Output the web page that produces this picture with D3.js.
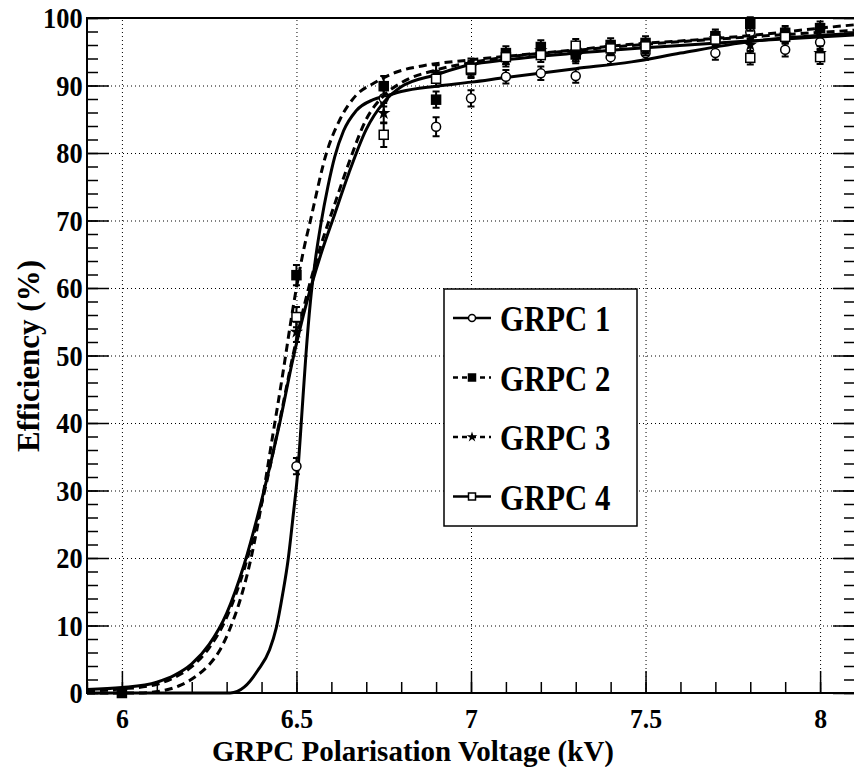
<!DOCTYPE html>
<html>
<head>
<meta charset="utf-8">
<script src="https://cdn.jsdelivr.net/npm/d3@7/dist/d3.min.js"></script>
<style>
  body { margin: 0; background: #fff; }
  svg { display: block; }
  text { font-family: "Liberation Serif", "DejaVu Serif", serif; font-weight: bold; fill: #000; }
</style>
</head>
<body>
<svg width="854" height="767"></svg>
<script>
// measured efficiencies (kV -> %)
const volts1 = [6.5, 6.75, 6.9, 7.0, 7.1, 7.2, 7.3, 7.4, 7.5, 7.7, 7.8, 7.9, 8.0];
const eff1   = [33.6, 88.1, 83.9, 88.1, 91.3, 91.8, 91.4, 94.2, 94.8, 94.8, 97.9, 95.3, 96.4];
const err1   = [1.2, 1.2, 1.4, 1.2, 1.0, 1.0, 1.0, 1.0, 1.0, 1.0, 1.0, 1.0, 1.0];

const volts2 = [6.0, 6.5, 6.75, 6.9, 7.0, 7.1, 7.2, 7.3, 7.4, 7.5, 7.7, 7.8, 7.9, 8.0];
const eff2   = [0.0, 61.9, 89.9, 87.9, 92.3, 94.8, 95.7, 94.6, 96.0, 96.3, 97.3, 99.1, 97.8, 98.5];
const err2   = [0.5, 1.5, 1.5, 1.2, 1.2, 1.0, 1.0, 1.0, 1.0, 1.0, 1.0, 1.0, 1.0, 1.0];

const volts3 = [6.5, 6.75, 6.9, 7.0, 7.1, 7.2, 7.3, 7.4, 7.5, 7.7, 7.8, 7.9, 8.0];
const eff3   = [53.5, 85.9, 91.8, 92.8, 93.8, 95.2, 94.3, 95.6, 95.5, 97.0, 96.0, 97.5, 94.8];
const err3   = [1.5, 1.5, 1.2, 1.2, 1.0, 1.0, 1.0, 1.0, 1.0, 1.0, 1.0, 1.0, 1.0];

const volts4 = [6.5, 6.75, 6.9, 7.0, 7.1, 7.2, 7.3, 7.4, 7.5, 7.7, 7.8, 7.9, 8.0];
const eff4   = [55.7, 82.7, 91.0, 92.5, 94.2, 94.5, 95.9, 95.5, 95.8, 96.8, 94.1, 97.2, 94.2];
const err4   = [1.5, 1.8, 1.2, 1.2, 1.0, 1.0, 1.0, 1.0, 1.0, 1.0, 1.0, 1.0, 1.0];

// fitted curves
const fitV1 = [5.9, 6.31, 6.351, 6.39, 6.423, 6.442, 6.461, 6.476, 6.49, 6.505, 6.515, 6.527, 6.54, 6.555, 6.57, 6.59, 6.61, 6.635, 6.67, 6.72, 6.76, 6.8, 6.9, 7.0, 7.1, 7.3, 7.46, 7.6, 7.8, 8.1];
const fitE1 = [0, 0, 0.9, 3.4, 6.4, 9.6, 14.8, 19.7, 26, 33.5, 41, 50, 58, 64.5, 69.5, 75, 79.5, 83.3, 86.2, 87.9, 88.5, 89.1, 89.9, 90.5, 91.2, 92.5, 93.5, 94.8, 96.5, 97.7];

const fitV2 = [5.9, 6.05, 6.113, 6.17, 6.21, 6.25, 6.28, 6.31, 6.34, 6.37, 6.40, 6.43, 6.46, 6.49, 6.52, 6.54, 6.586, 6.625, 6.67, 6.72, 6.787, 6.86, 7.0, 7.2, 7.3, 7.46, 7.6, 7.8, 8.0, 8.1];
const fitE2 = [0, 0, 0.3, 1.2, 2.4, 4.2, 6.3, 9.6, 14, 20, 28, 37.5, 47, 57, 65.5, 70, 80, 85, 88.5, 90.3, 92, 92.9, 93.8, 94.8, 95.3, 96.1, 96.6, 97.4, 98.5, 99];

const fitV3 = [5.9, 6.0, 6.1, 6.15, 6.2, 6.25, 6.3, 6.35, 6.4, 6.45, 6.49, 6.53, 6.57, 6.61, 6.65, 6.7, 6.75, 6.8, 6.9, 7.0, 7.1, 7.3, 7.5, 7.8, 8.1];
const fitE3 = [0.3, 0.6, 1.3, 2.3, 3.9, 6.7, 11.2, 18.3, 28, 39.8, 50, 59, 66.3, 72.5, 78.5, 85, 88.5, 90.4, 92.3, 93.4, 94.2, 95.2, 96.1, 97.2, 98.2];

const fitV4 = [5.9, 6.0, 6.1, 6.15, 6.2, 6.25, 6.3, 6.35, 6.4, 6.45, 6.49, 6.53, 6.57, 6.61, 6.65, 6.7, 6.75, 6.8, 6.9, 7.0, 7.1, 7.3, 7.5, 7.8, 8.1];
const fitE4 = [0.5, 0.8, 1.6, 2.6, 4.3, 7.2, 11.8, 19, 28.5, 39.5, 49.5, 58, 65, 71, 77, 83.5, 87.5, 89.8, 91.6, 93.1, 93.8, 94.8, 95.6, 96.6, 97.5];

const legendLabels = ['GRPC 1', 'GRPC 2', 'GRPC 3', 'GRPC 4'];
const xMajorTicks = [6, 6.5, 7, 7.5, 8];
const yMajorTicks = [0, 10, 20, 30, 40, 50, 60, 70, 80, 90, 100];

const series = [
    { v: volts1, e: eff1, err: err1, fv: fitV1, fe: fitE1, dash: null,  marker: 'circle',  filled: false },
    { v: volts2, e: eff2, err: err2, fv: fitV2, fe: fitE2, dash: '8,5', marker: 'square',  filled: true  },
    { v: volts3, e: eff3, err: err3, fv: fitV3, fe: fitE3, dash: '8,5', marker: 'star',    filled: true  },
    { v: volts4, e: eff4, err: err4, fv: fitV4, fe: fitE4, dash: null,  marker: 'square',  filled: false }
];

const svg = d3.select('svg');
const x = d3.scaleLinear().domain([5.9, 8.1]).range([87, 855]);
const y = d3.scaleLinear().domain([0, 100]).range([693, 18]);
const [x0, x1] = x.range();
const [y0, y1] = y.range();
const squeeze = 'scale(0.88,1)';

// dotted grid
svg.append('g')
    .attr('transform', `translate(0,${y0})`)
    .call(d3.axisBottom(x).tickValues(xMajorTicks).tickSize(-(y0 - y1)).tickFormat(''))
    .call(g => g.select('.domain').remove())
    .selectAll('line')
        .attr('stroke', '#000')
        .attr('stroke-dasharray', '1,3');

svg.append('g')
    .attr('transform', `translate(${x0},0)`)
    .call(d3.axisLeft(y).tickValues(yMajorTicks.slice(1, -1)).tickSize(-(x1 - x0)).tickFormat(''))
    .call(g => g.select('.domain').remove())
    .selectAll('line')
        .attr('stroke', '#000')
        .attr('stroke-dasharray', '1,3');

// ticks, ROOT style (inward), y on both sides
const tickStyle = g => {
    g.select('.domain').remove();
    g.selectAll('line').attr('stroke', '#000').attr('stroke-width', 1.5);
};

svg.append('g')
    .attr('transform', `translate(0,${y0})`)
    .call(d3.axisBottom(x).tickValues(d3.range(59, 82).map(d => d / 10)).tickSize(-11).tickFormat(''))
    .call(tickStyle);
svg.append('g')
    .attr('transform', `translate(0,${y0})`)
    .call(d3.axisBottom(x).tickValues(xMajorTicks).tickSize(-22).tickPadding(15).tickFormat(d3.format('')))
    .call(tickStyle)
    .selectAll('text')
        .attr('font-size', 28)
        .attr('transform', 'scale(0.92,1)');

svg.append('g')
    .attr('transform', `translate(${x0},0)`)
    .call(d3.axisLeft(y).tickValues(d3.range(0, 101, 2)).tickSize(-11).tickFormat(''))
    .call(tickStyle);
svg.append('g')
    .attr('transform', `translate(${x0},0)`)
    .call(d3.axisLeft(y).tickValues(yMajorTicks).tickSize(-22).tickPadding(5))
    .call(tickStyle)
    .selectAll('text')
        .attr('font-size', 30)
        .attr('transform', squeeze);

svg.append('g')
    .attr('transform', `translate(${x1},0)`)
    .call(d3.axisRight(y).tickValues(d3.range(0, 101, 2)).tickSize(-11).tickFormat(''))
    .call(tickStyle);
svg.append('g')
    .attr('transform', `translate(${x1},0)`)
    .call(d3.axisRight(y).tickValues(yMajorTicks).tickSize(-22).tickFormat(''))
    .call(tickStyle);

// frame
svg.append('rect')
    .attr('x', x0).attr('y', y1)
    .attr('width', x1 - x0).attr('height', y0 - y1)
    .attr('fill', 'none')
    .attr('stroke', '#000')
    .attr('stroke-width', 2);

// axis titles
svg.append('text')
    .attr('transform', 'translate(413,761)')
    .attr('text-anchor', 'middle')
    .attr('font-size', 29)
    .text('GRPC Polarisation Voltage (kV)');

svg.append('text')
    .attr('transform', 'translate(39,356) rotate(-90)')
    .attr('text-anchor', 'middle')
    .attr('font-size', 31)
    .text('Efficiency (%)');

const drawMarker = (sel, s, size) => {
    if (s.marker === 'circle') {
        sel.append('circle')
            .attr('r', size * 0.5)
            .attr('fill', '#fff')
            .attr('stroke', '#000')
            .attr('stroke-width', 1.5);
    } else if (s.marker === 'square') {
        sel.append('rect')
            .attr('x', -size / 2).attr('y', -size / 2)
            .attr('width', size).attr('height', size)
            .attr('fill', s.filled ? '#000' : '#fff')
            .attr('stroke', '#000')
            .attr('stroke-width', 1.5);
    } else {
        sel.append('path')
            .attr('d', d3.symbol(d3.symbolStar, size * size * 0.7)())
            .attr('fill', '#000');
    }
};

const line = d3.line()
    .x(d => x(d[0]))
    .y(d => y(d[1]))
    .curve(d3.curveMonotoneX);

series.forEach(s => {
    const g = svg.append('g');

    g.append('path')
        .datum(d3.zip(s.fv, s.fe))
        .attr('fill', 'none')
        .attr('stroke', '#000')
        .attr('stroke-width', 3)
        .attr('stroke-dasharray', s.dash)
        .attr('d', line);

    const pts = g.selectAll('.pt')
        .data(d3.zip(s.v, s.e, s.err))
        .join('g')
            .attr('class', 'pt')
            .attr('transform', d => `translate(${x(d[0])},${y(d[1])})`);

    // error bars with end caps
    pts.append('path')
        .attr('stroke', '#000')
        .attr('stroke-width', 2)
        .attr('fill', 'none')
        .attr('d', d => {
            const t = y(d[1] + d[2]) - y(d[1]);
            const b = y(d[1] - d[2]) - y(d[1]);
            return `M0,${t}V${b}M-3.5,${t}H3.5M-3.5,${b}H3.5`;
        });

    pts.call(sel => drawMarker(sel, s, 9));
});

// legend
const legend = svg.append('g');
legend.append('rect')
    .attr('x', 444).attr('y', 289)
    .attr('width', 193).attr('height', 237)
    .attr('fill', '#fff')
    .attr('stroke', '#000')
    .attr('stroke-width', 1.5);

const rows = legend.selectAll('.row')
    .data(series)
    .join('g')
        .attr('class', 'row')
        .attr('transform', (d, i) => `translate(0,${318 + i * 59.5})`);

rows.append('line')
    .attr('x1', 453).attr('x2', 491)
    .attr('stroke', '#000')
    .attr('stroke-width', 2.5)
    .attr('stroke-dasharray', d => d.dash ? '5,4' : null);

rows.append('g')
    .attr('transform', 'translate(472,0)')
    .each(function (d) { drawMarker(d3.select(this), d, 7); });

rows.append('text')
    .attr('transform', `translate(500,13) ${squeeze}`)
    .attr('font-size', 35)
    .text((d, i) => legendLabels[i]);
</script>
</body>
</html>
